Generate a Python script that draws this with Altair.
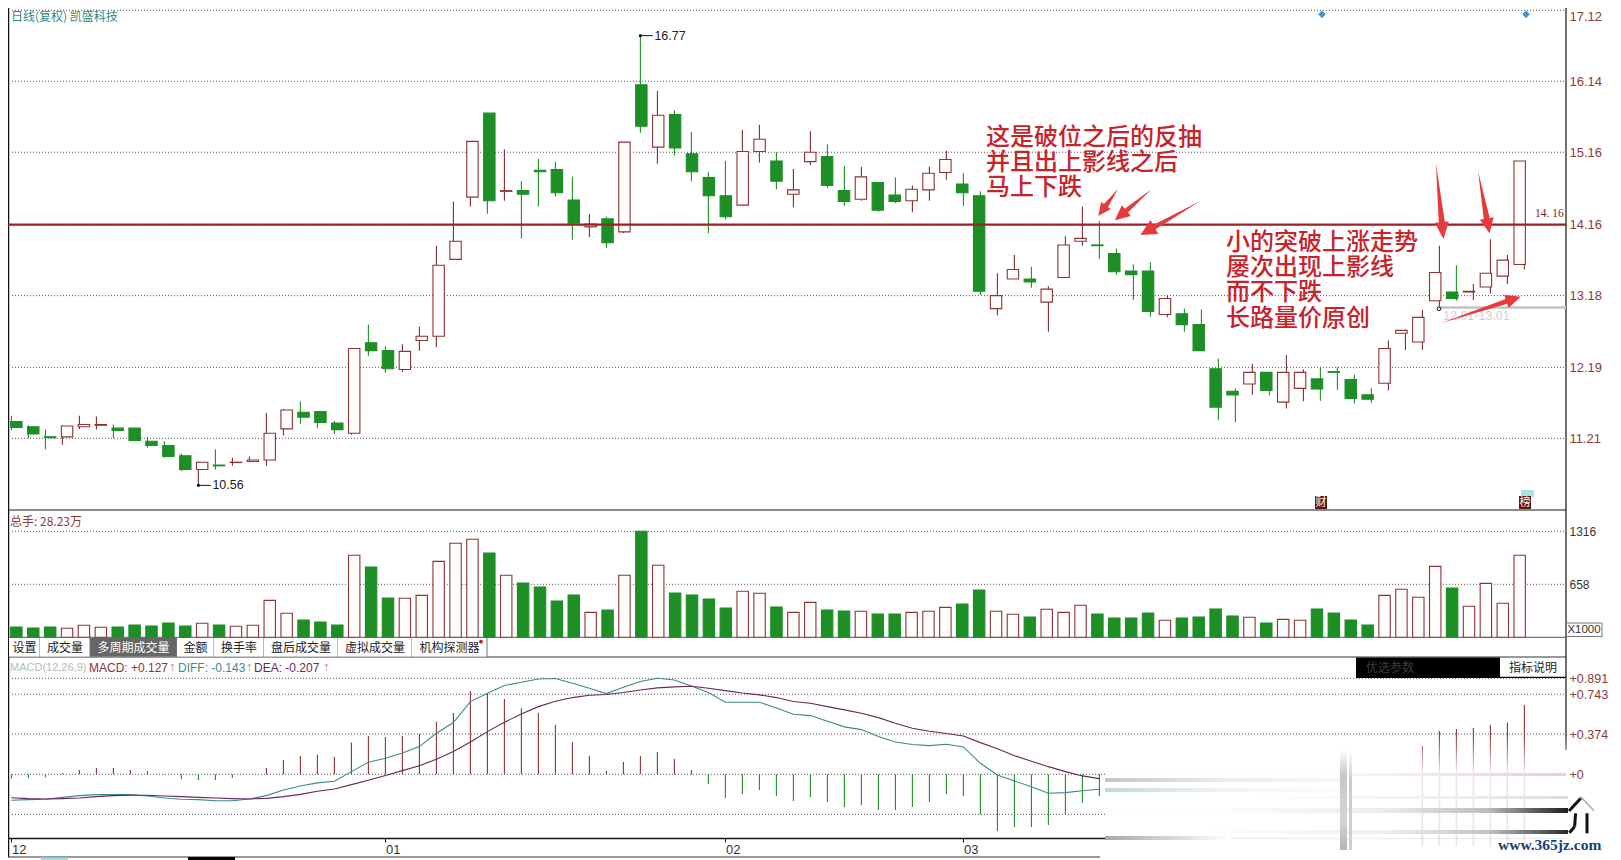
import math
import altair as alt
import pandas as pd

# ---------- price candles ----------
highs = [11.52,11.39,11.33,11.39,11.52,11.51,11.40,11.35,11.23,11.17,11.00,10.89,11.06,10.94,10.96,11.56,11.61,11.72,11.58,11.45,
         12.45,12.78,12.48,12.51,12.75,13.87,14.48,15.31,15.70,15.20,14.76,15.07,15.03,14.82,14.31,14.27,15.30,16.77,16.01,15.74,
         15.44,14.89,15.04,15.47,15.54,15.16,14.93,15.45,15.27,14.97,14.96,14.74,14.81,14.70,14.96,15.18,14.87,14.62,13.49,13.74,
         13.58,13.31,14.00,14.41,14.21,13.83,13.61,13.64,13.18,13.00,12.99,12.31,11.90,12.24,12.12,12.36,12.16,12.19,12.19,12.09,
         11.90,12.56,12.71,12.98,13.87,13.60,13.34,13.96,13.74,15.04]
body_tops = [11.44,11.37,11.23,11.38,11.40,11.40,11.35,11.35,11.17,11.11,10.97,10.88,10.84,10.88,10.91,11.28,11.60,11.57,11.58,11.42,
             12.45,12.53,12.42,12.41,12.62,13.60,13.93,15.31,15.70,14.63,14.63,14.91,14.92,14.50,14.17,14.24,15.30,16.09,15.67,15.68,
             15.14,14.81,14.56,15.17,15.34,15.04,14.64,15.16,15.10,14.63,14.82,14.74,14.57,14.65,14.87,15.06,14.72,14.56,13.18,13.54,
             13.41,13.27,13.88,13.97,13.88,13.76,13.52,13.52,13.14,12.93,12.78,12.17,11.86,12.12,12.12,12.12,12.12,12.03,12.13,12.02,
             11.81,12.45,12.70,12.88,13.50,13.23,13.24,13.49,13.67,15.04]
body_bottoms = [11.36,11.27,11.22,11.23,11.37,11.39,11.32,11.18,11.11,10.96,10.78,10.78,10.83,10.875,10.89,10.91,11.34,11.50,11.43,11.33,
                11.28,12.42,12.17,12.16,12.56,12.62,13.68,14.54,14.49,14.62,14.58,14.89,14.60,14.18,14.13,13.91,14.06,15.52,15.23,15.22,
                14.89,14.56,14.27,14.43,15.17,14.76,14.58,15.03,14.70,14.48,14.51,14.36,14.48,14.49,14.64,14.88,14.60,13.24,13.00,13.41,
                13.37,13.09,13.43,13.93,13.87,13.51,13.47,12.96,12.92,12.78,12.42,11.64,11.81,11.96,11.87,11.71,11.90,11.89,12.12,11.76,
                11.75,11.97,12.66,12.54,13.11,13.14,13.23,13.30,13.45,13.61]
lows = [11.32,11.21,11.06,11.12,11.34,11.33,11.21,11.17,11.08,10.94,10.76,10.56,10.78,10.83,10.88,10.83,11.25,11.41,11.35,11.27,
        11.26,12.35,12.12,12.13,12.42,12.47,13.68,14.41,14.31,14.49,13.97,14.41,14.55,13.95,13.99,13.84,14.04,15.43,15.00,15.12,
        14.76,14.04,14.23,14.42,15.02,14.65,14.40,14.98,14.67,14.42,14.49,14.34,14.46,14.33,14.49,14.78,14.42,13.19,12.91,13.41,
        13.29,12.68,13.43,13.87,13.69,13.47,13.12,12.89,12.88,12.68,12.42,11.46,11.43,11.81,11.80,11.62,11.72,11.73,11.88,11.69,
        11.70,11.87,12.43,12.43,13.01,13.11,13.12,13.21,13.34,13.54]
direction = list("gggrrrgggg" "grgrrrrggg" "rggrrrrrgr" "ggggrgrgrg" "gggrrgrrgg"
                 "rggrrrggrr" "grrrggggrg" "gggrgrrggg" "grrrrgrrrr")

# ---------- volume (x1000) ----------
volumes = [128,116,128,112,149,124,128,153,141,178,141,174,153,137,149,459,298,215,190,153,
           1018,873,488,484,521,943,1167,1217,1047,770,674,625,451,526,310,339,770,1316,894,550,
           526,476,364,571,546,377,310,434,339,327,323,290,290,310,323,372,414,588,323,286,
           252,348,310,397,290,240,240,302,211,240,252,352,265,248,178,223,211,352,302,215,
           153,521,596,497,881,612,385,670,422,1018]

# ---------- MACD ----------
macd_hist = [-.040,-.037,-.028,.012,.040,.059,.059,.040,.028,.003,-.043,-.053,-.053,-.034,0,.059,.133,.170,.183,.161,
             .294,.356,.347,.356,.375,.489,.570,.774,.752,.700,.613,.570,.458,.300,.170,.031,.115,.170,.207,.142,
             .040,-.090,-.220,-.183,-.146,-.201,-.248,-.214,-.257,-.303,-.285,-.331,-.331,-.303,-.257,-.183,-.201,-.372,-.526,-.489,
             -.489,-.471,-.372,-.266,-.201]
macd_hist_end = [.263,.402,.421,.430,.458,.480,.644]   # last 7 sessions, the ones between were erased from the picture
erased_floor = -0.67                                   # how far their faded traces run below zero
diff_line = [-.241,-.235,-.232,-.214,-.198,-.189,-.189,-.189,-.201,-.220,-.232,-.235,-.245,-.245,-.229,-.198,-.146,-.108,-.080,-.065,
             .025,.111,.149,.198,.257,.381,.480,.675,.752,.824,.854,.885,.889,.845,.799,.749,.808,.861,.892,.876,
             .820,.759,.669,.669,.669,.616,.557,.545,.492,.440,.415,.350,.300,.276,.266,.279,.254,.102,-.006,-.062,
             -.115,-.176,-.170,-.152,-.139]
dea_line = [-.217,-.226,-.229,-.226,-.220,-.207,-.198,-.195,-.195,-.201,-.207,-.214,-.220,-.226,-.229,-.223,-.207,-.186,-.158,-.136,
            -.096,-.056,-.012,.034,.080,.139,.211,.300,.396,.483,.560,.628,.678,.712,.734,.740,.759,.783,.802,.811,
            .817,.799,.777,.755,.737,.712,.675,.659,.628,.598,.567,.526,.474,.427,.399,.378,.356,.294,.238,.173,
            .121,.071,.025,-.015,-.040]

# ---------- axes ----------
price_ticks = [17.12, 16.14, 15.16, 14.16, 13.18, 12.19, 11.21]
volume_ticks = [1316, 658]
macd_ticks = [0.891, 0.743, 0.374, 0, -0.372]
macd_tick_labels = ["+0.891", "+0.743", "+0.374", "+0", "-0.365"]
month_sessions = [0, 22, 42, 56]
month_labels = ["12", "01", "02", "03"]
tab_names = ["设置", "成交量", "多周期成交量", "金额", "换手率", "盘后成交量", "虚拟成交量", "机构探测器"]
extremes = [(37, 16.77, "16.77"), (11, 10.56, "10.56")]
note_one = ["这是破位之后的反抽", "并且出上影线之后", "马上下跌"]
note_two = ["小的突破上涨走势", "屡次出现上影线", "而不下跌", "长路量价原创"]

n = len(highs)
candles = pd.DataFrame({"i": range(n), "high": highs, "top": body_tops, "bottom": body_bottoms, "low": lows,
                        "dir": direction, "vol": volumes})
hist = pd.DataFrame({"i": list(range(len(macd_hist))) + list(range(n - 7, n)),
                     "v": macd_hist + macd_hist_end})
hist["zero"] = 0.0
hist["dir"] = ["r" if v >= 0 else "g" for v in hist["v"]]
hist_trace = pd.DataFrame({"i": list(range(n - 7, n)), "zero": [0.0] * 7, "v": [erased_floor] * 7})
lines = pd.DataFrame({"i": range(len(diff_line)), "diff": diff_line, "dea": dea_line})

GREEN, RED, RED_WICK = "#1e8e26", "#8a3434", "#7c2f2f"
CJK = "Noto Sans CJK SC"
LATIN = "Liberation Sans"
dir_color = alt.Color("dir:N", scale=alt.Scale(domain=["g", "r"], range=[GREEN, RED]), legend=None)
dir_fill = alt.Fill("dir:N", scale=alt.Scale(domain=["g", "r"], range=[GREEN, "#fffcfc"]), legend=None)
dir_stroke = alt.Stroke("dir:N", scale=alt.Scale(domain=["g", "r"], range=[GREEN, RED]), legend=None)

X_SCALE = alt.Scale(domain=[-0.2, 91.447], zero=False, nice=False)
PRICE = alt.Scale(domain=[11.21, 17.12], range=[430.3, 2.3], zero=False, nice=False)
VOL = alt.Scale(domain=[0, 1316], range=[629.3, 523.3], zero=False, nice=False)
MACD = alt.Scale(domain=[0, 0.891], range=[766.3, 670.3], zero=False, nice=False)
X = alt.X("i:Q", scale=X_SCALE, axis=None, title=None)
OFF = 8  # the page margin: positions below are written in page pixels


def text(s, x, y, size=12, color="#222222", font=LATIN, align="left", weight="normal", baseline="middle", opacity=1.0, **kw):
    return alt.Chart().mark_text(text=s, fontSize=size, color=color, font=font, align=align, fontWeight=weight,
                                 baseline=baseline, opacity=opacity, **kw).encode(
        x=alt.value(x - OFF), y=alt.value(y - OFF))


def box(x0, y0, x1, y1, fill="#ffffff", stroke=None, sw=1.0, opacity=1.0):
    kw = {"stroke": stroke, "strokeWidth": sw} if stroke else {}
    return alt.Chart().mark_rect(fill=fill, opacity=opacity, **kw).encode(
        x=alt.value(x0 - OFF), x2=alt.value(x1 - OFF), y=alt.value(y0 - OFF), y2=alt.value(y1 - OFF))


def seg(x0, y0, x1, y1, color="#666666", sw=1.0):
    return alt.Chart().mark_rule(color=color, strokeWidth=sw).encode(
        x=alt.value(x0 - OFF), x2=alt.value(x1 - OFF), y=alt.value(y0 - OFF), y2=alt.value(y1 - OFF))


def gradient_box(x0, y0, x1, y1, stops, horizontal=True):
    g = alt.LinearGradient(gradient="linear",
                           stops=[alt.GradientStop(color=c, offset=o) for c, o in stops],
                           x1=0, y1=0, x2=1 if horizontal else 0, y2=0 if horizontal else 1)
    return alt.Chart().mark_rect(fill=g).encode(
        x=alt.value(x0 - OFF), x2=alt.value(x1 - OFF), y=alt.value(y0 - OFF), y2=alt.value(y1 - OFF))


def arrow(tail, tip, head_len, head_half, shaft_half, color="#e83a3c"):
    dx, dy = tip[0] - tail[0], tip[1] - tail[1]
    L = math.hypot(dx, dy)
    ux, uy = dx / L, dy / L
    nx, ny = -uy, ux
    bx, by = dx - ux * head_len, dy - uy * head_len
    pts = [(0, 0), (bx + nx * shaft_half, by + ny * shaft_half), (bx + nx * head_half, by + ny * head_half), (dx, dy),
           (bx - nx * head_half, by - ny * head_half), (bx - nx * shaft_half, by - ny * shaft_half)]
    path = "M" + "L".join(f"{a:.1f},{b:.1f}" for a, b in pts) + "Z"
    return alt.Chart().mark_point(shape=path, size=4, filled=True, color=color, opacity=1, strokeWidth=0).encode(
        x=alt.value(tail[0] - OFF), y=alt.value(tail[1] - OFF))


layers = []

# ---- separators ----
layers += [seg(0, 510, 1566, 510, "#666666", 1.5), seg(0, 637.3, 1566, 637.3, "#777777", 1.2), seg(0, 657, 1566, 657, "#777777", 1.5),
           seg(8.5, 8, 8.5, 857, "#111111", 1.5), seg(1566, 0, 1566, 750, "#111111", 1.2)]

# ---- grids with their axes ----
AX = dict(orient="right", title=None, domain=False, ticks=False, grid=False, labelOverlap=False, labelFlush=False, labelPadding=3)
grid_style = dict(color="#555555", strokeWidth=1, strokeDash=[1, 2])
layers.append(alt.Chart(pd.DataFrame({"v": price_ticks})).mark_rule(**grid_style).encode(
    y=alt.Y("v:Q", scale=PRICE, axis=alt.Axis(values=price_ticks, labelColor="#8a3c3c", labelFontSize=13, labelFont=LATIN,
                                               labelBaseline=alt.expr("datum.value>17?'top':'middle'"),
                                               labelExpr="format(datum.value,'.2f')", **AX)),
    x=alt.value(4), x2=alt.value(1558)))
layers.append(alt.Chart(pd.DataFrame({"v": volume_ticks})).mark_rule(**grid_style).encode(
    y=alt.Y("v:Q", scale=VOL, axis=alt.Axis(values=volume_ticks, labelColor="#333333", labelFontSize=12, labelFont=LATIN,
                                             format="d", **AX)),
    x=alt.value(4), x2=alt.value(1558)))
label_expr = "{" + ",".join(f"'{v}':'{s}'" for v, s in zip(macd_ticks, macd_tick_labels)) + "}[''+datum.value]"
layers.append(alt.Chart(pd.DataFrame({"v": macd_ticks})).mark_rule(**grid_style).encode(
    y=alt.Y("v:Q", scale=MACD, axis=alt.Axis(values=macd_ticks, labelFontSize=12.5, labelFont=LATIN,
                                              labelColor=alt.expr("datum.value<0?'#5aa05a':'#8a3c3c'"),
                                              labelExpr=label_expr, **AX)),
    x=alt.value(4), x2=alt.value(1558)))

# month axis along the bottom of the MACD panel
layers.append(alt.Chart(pd.DataFrame({"i": month_sessions})).mark_tick(opacity=0).encode(
    x=alt.X("i:Q", scale=X_SCALE, title=None,
            axis=alt.Axis(values=month_sessions, orient="bottom", grid=False, domainColor="#111111", domainWidth=1.5,
                          tickColor="#111111", tickSize=4, labelAlign="left", labelFontSize=13, labelColor="#333333",
                          labelPadding=1, labelFont=LATIN, labelOverlap=False, labelFlush=False,
                          labelExpr="{" + ",".join(f"'{v}':'{s}'" for v, s in zip(month_sessions, month_labels)) + "}[''+datum.value]"))))

# ---- candles ----
base = alt.Chart(candles)
layers.append(base.mark_rule(strokeWidth=1.1).encode(
    x=X, y=alt.Y("high:Q", scale=PRICE, axis=None), y2="low:Q",
    color=alt.Color("dir:N", scale=alt.Scale(domain=["g", "r"], range=[GREEN, RED_WICK]), legend=None)))
layers.append(base.mark_bar(size=11.4, strokeWidth=1.1, orient="vertical").encode(
    x=X, y=alt.Y("top:Q", scale=PRICE, axis=None, stack=None), y2="bottom:Q", fill=dir_fill, stroke=dir_stroke))

# reference line at 14.16
layers.append(alt.Chart(pd.DataFrame({"v": [14.16]})).mark_rule(color="#9c2228", strokeWidth=2.2).encode(
    y=alt.Y("v:Q", scale=PRICE, axis=None), x=alt.value(0), x2=alt.value(1558)))

# high / low call-outs
ext = pd.DataFrame(extremes, columns=["i", "p", "label"])
ext["i2"] = ext["i"] + 0.73
layers.append(alt.Chart(ext).mark_rule(color="#111111", strokeWidth=1).encode(
    x=X, x2="i2:Q", y=alt.Y("p:Q", scale=PRICE, axis=None)))
layers.append(alt.Chart(ext).mark_point(filled=True, color="#111111", size=10, opacity=1).encode(
    x=X, y=alt.Y("p:Q", scale=PRICE, axis=None)))
layers.append(alt.Chart(ext).mark_text(align="left", dx=14, fontSize=12.5, color="#222222", font=LATIN).encode(
    x=X, y=alt.Y("p:Q", scale=PRICE, axis=None), text="label:N"))

# ---- volume ----
layers.append(base.mark_bar(size=11.4, strokeWidth=1.1, orient="vertical").encode(
    x=X, y=alt.Y("vol:Q", scale=VOL, axis=None, stack=None), fill=dir_fill, stroke=dir_stroke))

# ---- MACD ----
hb = alt.Chart(hist)
layers.append(hb.mark_rule(strokeWidth=1.1).encode(
    x=X, y=alt.Y("v:Q", scale=MACD, axis=None), y2="zero:Q", color=dir_color))
lb = alt.Chart(lines)
layers.append(lb.mark_line(color="#3b8a8c", strokeWidth=1.1).encode(
    x=X, y=alt.Y("diff:Q", scale=MACD, axis=None)))
layers.append(lb.mark_line(color="#642a5c", strokeWidth=1.1).encode(
    x=X, y=alt.Y("dea:Q", scale=MACD, axis=None)))

# ---- the erased, smeared corner of the MACD panel ----
W0, W1 = "rgba(255,255,255,0)", "rgba(255,255,255,0.93)"
layers += [gradient_box(1105, 735, 1567, 775, [(W0, 0), (W1, 1)], horizontal=False),
           box(1105, 775, 1567, 840, "#ffffff", opacity=0.93),
           alt.Chart(hist_trace).mark_rule(strokeWidth=1.6, color="#c99a9a", opacity=0.28).encode(
               x=X, y=alt.Y("zero:Q", scale=MACD, axis=None), y2="v:Q"),
           gradient_box(1105, 778, 1345, 782, [("#c4c4c4", 0), ("#ededed", 0.5), ("#f9f6f6", 1)]),
           gradient_box(1345, 773, 1566, 776, [("#fcf7f7", 0), ("#e8cfcf", 1)]),
           gradient_box(1105, 788, 1345, 792, [("#c3d9d6", 0), ("#f0f6f5", 0.5), ("#fbfdfc", 1)]),
           gradient_box(1250, 796, 1568, 799, [("#ffffff", 0), ("#ededed", 0.7), ("#dcdcdc", 1)]),
           gradient_box(1200, 808, 1568, 813, [("#ffffff", 0), ("#ececec", 0.5), ("#bdbdbd", 0.78), ("#1c1c1c", 1)]),
           gradient_box(1200, 830, 1568, 834, [("#ffffff", 0), ("#eeeeee", 0.5), ("#c4c4c4", 0.78), ("#2a2a2a", 1)]),
           gradient_box(1105, 836, 1230, 840, [("#a8a8a8", 0), ("#ffffff", 1)]),
           gradient_box(1340, 750, 1347, 850, [("#ffffff", 0), ("#c8c8c8", 0.25), ("#d4d4d4", 0.7), ("#b4b4b4", 1)], horizontal=False),
           gradient_box(1349, 750, 1352, 850, [("#ffffff", 0), ("#cccccc", 0.3), ("#cfcfcf", 1)], horizontal=False)]
layers += [seg(1569, 811, 1580.8, 798.3, "#111111", 3), seg(1580.8, 796.7, 1593.8, 810.7, "#aaaaaa", 1.5),
           seg(1575.6, 813.3, 1574.6, 826.7, "#111111", 3), seg(1574.6, 826.7, 1569.4, 832.7, "#111111", 3),
           seg(1587, 813.3, 1587, 833.3, "#111111", 3)]
layers.append(text("www.365jz.com", 1498, 845, 15.5, "#1b3f7a", "Liberation Serif", weight="bold"))

# ---- header texts ----
layers.append(text("日线(复权)  凯盛科技", 11, 17, 12, "#2e8a86", CJK))
layers.append(text("总手: 28.23万", 10, 521.5, 12, "#8a3c3c", CJK))
for s, x, c, fs in [("MACD(12,26,9)", 10, "#b9b9b9", 11), ("MACD: +0.127", 89, "#8a3333", 12),
                    ("DIFF: -0.143", 178, "#3b8a8c", 12), ("DEA: -0.207", 254, "#642a5c", 12)]:
    layers.append(text(s, x, 667.5, fs, c))
for x, c in [(168, "#e0a0a0"), (245, "#e0a0a0"), (322, "#e0a0a0")]:
    layers.append(text("↑", x, 667.5, 10, c, "DejaVu Sans"))

# ---- tabs ----
tab_edges = [9, 40, 90, 177, 214, 264, 338, 412, 487]
for k, name in enumerate(tab_names):
    x0, x1 = tab_edges[k], tab_edges[k + 1]
    active = k == 2
    layers.append(box(x0, 638, x1, 656.5, "#666666" if active else "#ffffff"))
    layers.append(seg(x1, 638, x1, 657, "#777777", 1))
    layers.append(text(name, (x0 + x1) / 2, 647.5, 12, "#ffffff" if active else "#222222", CJK, align="center"))
layers.append(alt.Chart().mark_point(filled=True, color="#b02020", size=14, opacity=1).encode(
    x=alt.value(481 - OFF), y=alt.value(641.7 - OFF)))

# ---- little boxes on the right ----
layers += [box(1566.5, 623, 1602, 636.5, "#ffffff", "#777777", 1), text("X1000", 1584, 630, 11.5, "#333333", align="center"),
           box(1356, 657.5, 1500, 677, "#000000"), text("优选参数", 1366, 668, 12, "#3c3c3c", CJK),
           text("指标说明", 1533, 667.5, 12, "#222222", CJK, align="center"), seg(1356, 677.3, 1566, 677.3, "#000000", 1.2)]

# ---- bottom tab strip ----
layers += [seg(8, 857, 1100, 857, "#333333", 1), box(41, 857.5, 68, 860, "#9fdcdc"), box(188, 857, 235, 860, "#000000")]

# ---- event stamps and diamonds ----
layers += [box(1521, 490, 1534, 497, "#a8e6e6"),
           box(1315, 496, 1327, 509, "#5e1414"), text("财", 1321, 502.5, 11, "#ffffff", CJK, align="center"),
           box(1519, 496, 1531, 509, "#5e1414"), text("榜", 1525, 502.5, 11, "#ffffff", CJK, align="center")]
for x in (1322, 1526):
    layers.append(alt.Chart().mark_point(shape="diamond", filled=True, color="#3a9ac4", size=60, opacity=1).encode(
        x=alt.value(x - OFF), y=alt.value(14.3 - OFF)))

# ---- interval mark ----
layers += [seg(1439, 307.5, 1566, 307.5, "#c2c2c2", 2.6),
           text("12.01-13.01", 1443, 315.5, 12.5, "#cfcfcf"),
           alt.Chart().mark_point(color="#111111", size=14, strokeWidth=1, opacity=1).encode(
               x=alt.value(1439 - OFF), y=alt.value(308.7 - OFF))]
layers.append(text("14. 16", 1535, 214, 11.5, "#7c2222", "Liberation Serif"))

# ---- hand-drawn notes ----
NOTE = "#c6232b"
layers.append(text(note_one, 986, 138, 24, NOTE, CJK, weight=500, lineHeight=25))
layers.append(text(note_two, 1226, 243, 24, NOTE, CJK, weight=500, lineHeight=25.2))
layers += [arrow((1118, 189), (1098.3, 216), 13, 6, 2.5), arrow((1151.5, 189.3), (1114.9, 220.3), 15, 7, 2.5),
           arrow((1200.9, 200.7), (1140.5, 235), 16, 8, 2.5), arrow((1435.9, 163.3), (1443.5, 239), 17, 7, 3),
           arrow((1478, 171), (1489.5, 233.3), 15, 7, 3), arrow((1440.7, 323.3), (1520.6, 296.7), 15, 7, 2.5)]

chart = alt.layer(*layers).resolve_scale(x="independent", y="independent", color="independent",
                                         fill="independent", stroke="independent").properties(
    width=1558, height=830,
    padding={"left": 0, "top": 0, "right": 47, "bottom": 22},
    autosize=alt.AutoSizeParams(type="none"),
    background="#ffffff",
).configure_view(stroke=None)

chart.save("out.html", embed_options={"renderer": "svg", "actions": False})
